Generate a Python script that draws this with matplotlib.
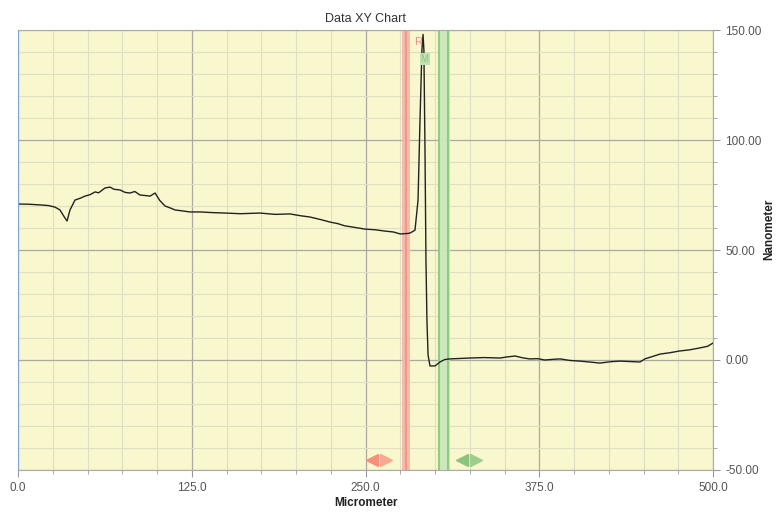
import matplotlib
matplotlib.use("Agg")
import matplotlib.pyplot as plt
from matplotlib.ticker import MultipleLocator, FormatStrFormatter

plt.rcParams['font.family'] = ['Liberation Sans', 'DejaVu Sans']

x_um = [0, 8, 15.8, 22, 26.6, 30.2, 33.8, 35.3, 37.4, 41, 45, 48.2, 52, 55.4, 58, 62.6, 66.2, 69, 73.4,
        77, 80.6, 84, 87.8, 91, 95, 98.6, 102, 105.8, 110, 113, 118, 123.7, 131, 140, 149, 160, 174,
        185, 195.7, 203, 210, 218, 224.5, 230, 235, 242, 249.6, 257, 264, 270, 275, 280, 282, 285.6,
        287.8, 289.2, 290.6, 291.4, 292, 292.8, 293.5, 294.2, 295, 296.4, 300, 303.6, 307, 310.8,
        318, 325, 335, 346.8, 352, 357.6, 363, 368, 374, 379, 385, 390, 397, 404, 411, 418.7, 426,
        433, 440, 447.5, 451, 456, 462, 469, 476, 483, 490.6, 496, 500]
y_nm = [70.9, 70.8, 70.5, 70.2, 69.5, 68.2, 64.5, 63.2, 68.2, 72.7, 73.6, 74.5, 75.2, 76.4, 76.0, 78.2,
        78.6, 77.6, 77.3, 76.2, 75.9, 76.6, 75.0, 74.8, 74.5, 75.9, 72.5, 70.0, 69.0, 68.2, 67.8, 67.3,
        67.3, 67.0, 66.8, 66.5, 66.8, 66.2, 66.4, 65.6, 65.0, 63.8, 62.7, 62.0, 61.0, 60.3, 59.5, 59.2,
        58.6, 58.2, 57.3, 57.5, 57.7, 59.0, 72.7, 109, 141, 148, 141, 95, 45, 18, 2.3, -2.7, -2.7,
        -0.9, 0.2, 0.5, 0.7, 0.9, 1.1, 0.9, 1.4, 1.8, 1.0, 0.5, 0.6, 0.0, 0.3, 0.5, -0.2, -0.5, -0.9,
        -1.4, -0.8, -0.5, -0.7, -0.9, 0.5, 1.5, 2.7, 3.3, 4.1, 4.6, 5.5, 6.2, 7.7]

x_ticks = [0, 125, 250, 375, 500]
y_ticks = [-50, 0, 50, 100, 150]
red_band = (276.0, 282.0)
green_band = (302.0, 310.5)

bg = '#f9f7cd'
fig = plt.figure(figsize=(7.83, 5.15), dpi=100)
ax = fig.add_axes([0.023, 0.0874, 0.8876, 0.8543])
ax.set_facecolor(bg)
ax.set_xlim(0, 500)
ax.set_ylim(-50, 150)

ax.xaxis.set_major_locator(MultipleLocator(125))
ax.xaxis.set_minor_locator(MultipleLocator(25))
ax.yaxis.set_major_locator(MultipleLocator(50))
ax.yaxis.set_minor_locator(MultipleLocator(10))
ax.grid(which='minor', color='#e0dfc4', lw=0.8)
ax.grid(which='major', color='#aaaaa2', lw=0.9)
ax.set_axisbelow(True)

ax.xaxis.set_major_formatter(FormatStrFormatter('%.1f'))
ax.yaxis.set_major_formatter(FormatStrFormatter('%.2f'))
ax.yaxis.tick_right()
ax.tick_params(axis='both', which='both', colors='#999999', labelcolor='#555555', labelsize=8.5,
               direction='out')
ax.tick_params(which='major', length=5)
ax.tick_params(which='minor', length=3)
ax.tick_params(axis='y', pad=4)

for s in ['top', 'bottom', 'right']:
    ax.spines[s].set_color('#aaaaaa')
ax.spines['left'].set_color('#7fa8d0')

# cursor bands
ax.axvspan(*red_band, color='#f6b8aa', alpha=0.95, lw=0)
ax.axvline(sum(red_band) / 2, color='#ef9a88', lw=1.6)
ax.axvspan(*green_band, color='#cbe9bc', alpha=0.95, lw=0)
ax.axvline(green_band[0] + 0.8, color='#8fcc80', lw=1.5)
ax.axvline(green_band[1] - 0.8, color='#8fcc80', lw=1.5)

ax.plot(x_um, y_nm, color='#222222', lw=1.0)

ax.text(287.5, 144.5, 'R', color='#e8907c', fontsize=8, ha='center', va='center')
ax.text(292.5, 137, 'M', color='#8fc47f', fontsize=7, ha='center', va='center',
        bbox=dict(boxstyle='square,pad=0.1', fc='#c0e4b0', ec='none'))

# arrows at bottom
ax.plot([255.0], [-45.5], marker='<', color='#f4907c', ms=8.5, clip_on=False, lw=0)
ax.plot([265.0], [-45.5], marker='>', color='#f6a890', ms=8.5, clip_on=False, lw=0)
ax.plot([319.2], [-45.5], marker='<', color='#8cc47e', ms=8.5, clip_on=False, lw=0)
ax.plot([329.5], [-45.5], marker='>', color='#9ccf8c', ms=8.5, clip_on=False, lw=0)

ax.set_title('Data XY Chart', fontsize=9, color='#333333', pad=6)
ax.set_xlabel('Micrometer', fontsize=8.5, fontweight='bold', color='#222222', labelpad=2)
fig.text(0.983, 0.555, 'Nanometer', rotation=90, fontsize=8.5, fontweight='bold',
         color='#222222', ha='center', va='center')

fig.savefig('out.png', dpi=100)
